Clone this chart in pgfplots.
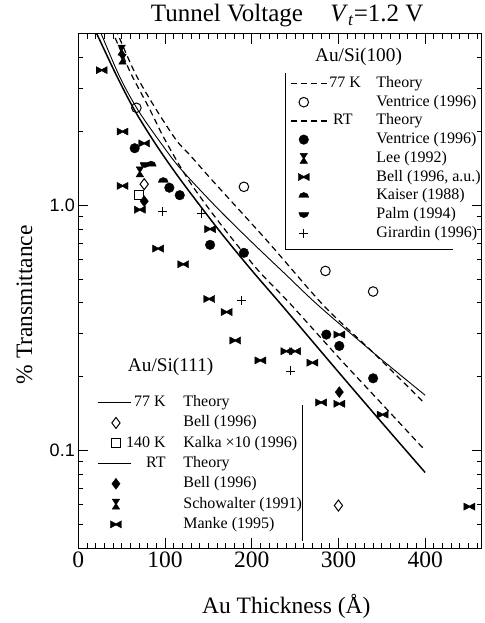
\documentclass[border=0pt]{standalone}
\usepackage{fontspec}
\setmainfont{Liberation Serif}
\newfontfamily\sansfont{Liberation Sans}
\usepackage{pgfplots}
\pgfplotsset{compat=1.18}

% marks for the measured series
\pgfdeclareplotmark{bowtie}{%
  \pgfpathmoveto{\pgfqpoint{-\pgfplotmarksize}{0.65\pgfplotmarksize}}%
  \pgfpathlineto{\pgfqpoint{0pt}{0.12\pgfplotmarksize}}%
  \pgfpathlineto{\pgfqpoint{\pgfplotmarksize}{0.65\pgfplotmarksize}}%
  \pgfpathlineto{\pgfqpoint{\pgfplotmarksize}{-0.65\pgfplotmarksize}}%
  \pgfpathlineto{\pgfqpoint{0pt}{-0.12\pgfplotmarksize}}%
  \pgfpathlineto{\pgfqpoint{-\pgfplotmarksize}{-0.65\pgfplotmarksize}}%
  \pgfpathclose\pgfusepathqfillstroke}
\pgfdeclareplotmark{hourglass}{%
  \pgfpathmoveto{\pgfqpoint{-0.75\pgfplotmarksize}{\pgfplotmarksize}}%
  \pgfpathlineto{\pgfqpoint{0.75\pgfplotmarksize}{\pgfplotmarksize}}%
  \pgfpathlineto{\pgfqpoint{0.12\pgfplotmarksize}{0pt}}%
  \pgfpathlineto{\pgfqpoint{0.75\pgfplotmarksize}{-\pgfplotmarksize}}%
  \pgfpathlineto{\pgfqpoint{-0.75\pgfplotmarksize}{-\pgfplotmarksize}}%
  \pgfpathlineto{\pgfqpoint{-0.12\pgfplotmarksize}{0pt}}%
  \pgfpathclose\pgfusepathqfillstroke}
\pgfdeclareplotmark{dome}{%
  \pgfpathmoveto{\pgfqpoint{-\pgfplotmarksize}{-0.35\pgfplotmarksize}}%
  \pgfpatharc{180}{0}{\pgfplotmarksize}%
  \pgfpathclose\pgfusepathqfillstroke}
\pgfdeclareplotmark{bowl}{%
  \pgfpathmoveto{\pgfqpoint{-\pgfplotmarksize}{0.35\pgfplotmarksize}}%
  \pgfpatharc{180}{360}{\pgfplotmarksize}%
  \pgfpathclose\pgfusepathqfillstroke}

\pgfplotsset{
  dsh/.style={black, line width=1.2pt, dash pattern=on 6pt off 4pt},
  opencirc/.style={black, only marks, mark=o, mark size=4.8pt, mark options={line width=1pt}},
  fullcirc/.style={black, only marks, mark=*, mark size=4.8pt},
  hglass/.style={black, only marks, mark=hourglass, mark size=5pt},
  btie/.style={black, only marks, mark=bowtie, mark size=5.5pt},
  kaiser/.style={black, only marks, mark=dome, mark size=5pt},
  palm/.style={black, only marks, mark=bowl, mark size=5pt},
  gir/.style={black, only marks, mark=+, mark size=4.5pt, mark options={line width=0.9pt}},
  opendia/.style={black, only marks, mark=diamond, mark size=5.5pt, mark options={line width=1pt}},
  opensq/.style={black, only marks, mark=square, mark size=4.3pt, mark options={line width=1pt}},
  fulldia/.style={black, only marks, mark=diamond*, mark size=5.5pt},
}

\begin{document}
\begin{tikzpicture}
\begin{axis}[
  name=main,
  scale only axis, width=403.2pt, height=514pt,
  xmin=0, xmax=465, ymin=0.04, ymax=5, ymode=log,
  xtick={0,100,200,300,400}, xticklabels={0,100,200,300,400},
  minor xtick={10,20,...,460},
  ytick={0.1,1}, yticklabels={0.1,1.0},
  minor ytick={0.05,0.06,0.07,0.08,0.09,0.2,0.3,0.4,0.5,0.6,0.7,0.8,0.9,2,3,4},
  /pgf/number format/assume math mode=true,
  major tick length=10pt, minor tick length=5pt,
  every tick/.style={black, line width=0.8pt},
  axis line style={line width=1pt},
  xticklabel style={font=\fontsize{23.5}{26}\selectfont},
  yticklabel style={font=\sansfont\fontsize{18}{20}\selectfont},
  xlabel={Au Thickness (Å)},
  xlabel style={font=\fontsize{23.5}{26}\selectfont, at={(0.516,-0.1265)}, anchor=base, inner sep=0pt},
  ylabel={\% Transmittance},
  ylabel style={font=\fontsize{23.5}{26}\selectfont, at={(-0.1148,0.473)}, anchor=base, inner sep=0pt},
  legend cell align=left,
  legend image code/.code={\draw[mark repeat=2,mark phase=2,#1] plot coordinates {(0pt,0pt) (13pt,0pt) (37pt,0pt)};},
  legend style={draw=none, fill=none, at={(0.525,0.9177)}, anchor=north west,
    inner sep=0pt, font=\fontsize{16}{18}\selectfont, row sep=4.7pt,
    nodes={inner sep=0pt, text height=11pt, text depth=3pt},
    /tikz/every odd column/.style={column sep=1pt}},
]
% theory curves
\addplot[black, line width=1.5pt, smooth, forget plot] coordinates {
  (15,5.56) (22,4.95) (44,3.39) (65,2.44) (90,1.76) (118,1.27) (163,0.785)
  (200,0.543) (235,0.39) (300,0.209) (350,0.130) (400,0.0813)};
\addplot[black, line width=0.9pt, smooth, forget plot] coordinates {
  (20,5.65) (27,4.95) (48,3.33) (69,2.44) (95,1.80) (117.5,1.416) (160,0.977)
  (200,0.708) (240,0.519) (277,0.39) (340,0.251) (400,0.168)};
\addplot[dsh, smooth, forget plot] coordinates {
  (38,5.25) (60,3.49) (81,2.52) (100,1.85) (127,1.27) (160,0.875) (206,0.55)
  (244,0.398) (300,0.24) (350,0.155) (400,0.1)};
\addplot[dsh, smooth, forget plot] coordinates {
  (43,5.25) (65,3.49) (88,2.52) (113,1.845) (129,1.60) (154,1.27) (218,0.715)
  (283,0.39) (340,0.251) (400,0.155)};
% Au/Si(100) data
\addplot[opencirc, forget plot] coordinates {(67,2.5) (191,1.19) (285,0.54) (340,0.445)};
\addplot[fullcirc, forget plot] coordinates {(65,1.71) (105,1.18) (117,1.10) (152,0.69) (191,0.64) (286,0.297) (301,0.267) (340,0.197)};
\addplot[hglass, forget plot] coordinates {(50,4.3) (71,1.37)};
\addplot[btie, forget plot] coordinates {(76,1.79) (152,0.80) (301,0.297) (351,0.14)};
\addplot[kaiser, forget plot] coordinates {(84,1.47) (98,1.26)};
\addplot[palm, forget plot] coordinates {(77,1.47)};
\addplot[gir, forget plot] coordinates {(97,0.94) (142,0.93) (188,0.41) (245,0.211)};
% Au/Si(111) data
\addplot[opendia, forget plot] coordinates {(76,1.22) (300,0.0596)};
\addplot[opensq, forget plot] coordinates {(70,1.10)};
\addplot[fulldia, forget plot] coordinates {(76,1.04) (301,0.173)};
\addplot[hglass, forget plot] coordinates {(51,3.95)};
\addplot[btie, forget plot] coordinates {(27,3.56) (51,2.0) (51,1.20) (71,0.96) (92,0.666) (121,0.575)
  (151,0.415) (171,0.367) (181,0.281) (210,0.233) (240,0.254) (250,0.254) (270,0.228)
  (280,0.157) (301,0.155) (451,0.059)};

\addlegendimage{dsh}
\addlegendentry{\makebox[47pt][l]{77 K}Theory}
\addlegendimage{opencirc}
\addlegendentry{\hspace*{47pt}Ventrice (1996)}
\addlegendimage{dsh}
\addlegendentry{\makebox[47pt][l]{\hspace*{3.7pt}RT}Theory}
\addlegendimage{fullcirc}
\addlegendentry{\hspace*{47pt}Ventrice (1996)}
\addlegendimage{hglass}
\addlegendentry{\hspace*{47pt}Lee (1992)}
\addlegendimage{btie}
\addlegendentry{\hspace*{47pt}Bell (1996, a.u.)}
\addlegendimage{kaiser}
\addlegendentry{\hspace*{47pt}Kaiser (1988)}
\addlegendimage{palm}
\addlegendentry{\hspace*{47pt}Palm (1994)}
\addlegendimage{gir}
\addlegendentry{\hspace*{47pt}Girardin (1996)}

\node[font=\fontsize{19.3}{22}\selectfont] at (rel axis cs:0.695,0.955) {Au/Si(100)};
\node[font=\fontsize{19.3}{22}\selectfont] at (rel axis cs:0.229,0.353) {Au/Si(111)};
\draw[line width=0.9pt] (rel axis cs:0.5127,0.924) -- (rel axis cs:0.5127,0.580) -- (rel axis cs:0.929,0.580);
\draw[line width=0.9pt] (rel axis cs:0.5566,0.278) -- (rel axis cs:0.5566,0.0136);
\end{axis}

% second legend: Au/Si(111)
\begin{axis}[
  scale only axis, width=403.2pt, height=514pt,
  xmin=0, xmax=465, ymin=0.04, ymax=5, ymode=log,
  hide axis,
  legend cell align=left,
  legend image code/.code={\draw[mark repeat=2,mark phase=2,#1] plot coordinates {(0pt,0pt) (18pt,0pt) (33pt,0pt)};},
  legend style={draw=none, fill=none, at={(0.0464,0.2969)}, anchor=north west,
    inner sep=0pt, font=\fontsize{16}{18}\selectfont, row sep=6.3pt,
    nodes={inner sep=0pt, text height=11pt, text depth=3pt},
    /tikz/every odd column/.style={column sep=0pt}},
]
\addplot[draw=none, forget plot] coordinates {(100,1)};
\addlegendimage{black, line width=0.9pt}
\addlegendentry{\makebox[34pt][r]{77 K}\hspace*{17.7pt}Theory}
\addlegendimage{opendia}
\addlegendentry{\hspace*{51.7pt}Bell (1996)}
\addlegendimage{opensq}
\addlegendentry{\makebox[34pt][r]{140 K}\hspace*{17.7pt}Kalka ×10 (1996)}
\addlegendimage{black, line width=1.5pt}
\addlegendentry{\makebox[34pt][r]{RT}\hspace*{17.7pt}Theory}
\addlegendimage{fulldia}
\addlegendentry{\hspace*{51.7pt}Bell (1996)}
\addlegendimage{hglass}
\addlegendentry{\hspace*{51.7pt}Schowalter (1991)}
\addlegendimage{btie}
\addlegendentry{\hspace*{51.7pt}Manke (1995)}
\end{axis}

\node[anchor=base, inner sep=0pt, font=\fontsize{25}{28}\selectfont]
  at ([xshift=7.3pt,yshift=12pt]main.north)
  {Tunnel Voltage\hspace{1.1em}\textit{V}\textsubscript{\textit{t}}=1.2 V};

\pgfresetboundingbox
\useasboundingbox ([xshift=-78.3pt,yshift=-75pt]main.south west) rectangle ([xshift=2.5pt,yshift=34pt]main.north east);
\end{tikzpicture}
\end{document}
